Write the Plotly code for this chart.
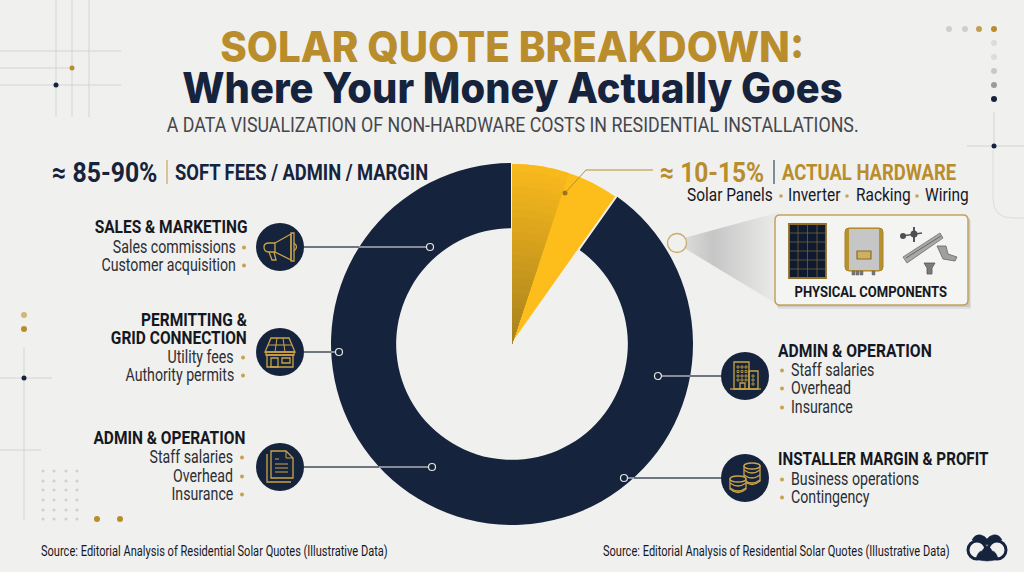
import json
import plotly.graph_objects as go

slice_labels = ["Actual hardware", "Soft fees / admin / margin"]
slice_values = [9.8, 90.2]
shaded_values = [5.1, 94.9]

title_top = "SOLAR QUOTE BREAKDOWN:"
title_bottom = "Where Your Money Actually Goes"
subtitle = "A DATA VISUALIZATION OF NON-HARDWARE COSTS IN RESIDENTIAL INSTALLATIONS."
soft_range = "≈ 85-90%"
soft_label = "SOFT FEES / ADMIN / MARGIN"
hard_range = "≈ 10-15%"
hard_label = "ACTUAL HARDWARE"
hard_parts = ["Solar Panels", "Inverter", "Racking", "Wiring"]
box_label = "PHYSICAL COMPONENTS"
source_text = "Source: Editorial Analysis of Residential Solar Quotes (Illustrative Data)"

BG = "#f0f0ef"
NAVY = "#16233c"
GOLD = "#b98d2c"
ICON = "#c9a445"
YELLOW = "#fdbe1b"
INK = "#15181f"
BODY = "#2b2e33"
NARROW = "Roboto, sans-serif"
WIDE = "Inter, sans-serif"

CX, CY, R = 512, 344, 181
W, H = 1024, 572

fig = go.Figure()
shapes = []
notes = []
squeeze = []  # horizontal glyph scale per annotation, the reference type is condensed


def pie_domain(radius):
    return dict(x=[(CX - radius) / W, (CX + radius) / W],
                y=[(H - CY - radius) / H, (H - CY + radius) / H])


def lerp_color(a, b, t):
    pa = [int(a[i:i + 2], 16) for i in (1, 3, 5)]
    pb = [int(b[i:i + 2], 16) for i in (1, 3, 5)]
    return "rgb(%d,%d,%d)" % tuple(pa[i] + (pb[i] - pa[i]) * t for i in range(3))


def text(x, y, s, size, color=BODY, weight=400, anchor="left", family=NARROW, scale=0.86):
    # annotations keep a small pad round the text, take it back out
    pad = {"left": -2, "right": 2, "center": 0}[anchor]
    notes.append(dict(x=x + pad, y=y, text=s, showarrow=False, xanchor=anchor, yanchor="middle",
                      xref="x", yref="y", align=anchor,
                      font=dict(size=size, color=color, family=family, weight=weight)))
    squeeze.append(scale)


def line(x0, y0, x1, y1, color="#d4d4d3", width=1):
    shapes.append(dict(type="line", x0=x0, y0=y0, x1=x1, y1=y1, line=dict(color=color, width=width)))


def dot(x, y, r, fill, stroke=None, width=1):
    shapes.append(dict(type="circle", x0=x - r, y0=y - r, x1=x + r, y1=y + r, fillcolor=fill,
                       line=dict(color=stroke or fill, width=width if stroke else 0)))


def path(d, color=ICON, width=1.3, fill="rgba(0,0,0,0)"):
    shapes.append(dict(type="path", path=d, fillcolor=fill, line=dict(color=color, width=width)))


def rel(cx, cy, pts, close=True):
    d = "M" + " L".join("%g,%g" % (cx + a, cy + b) for a, b in pts)
    return d + (" Z" if close else "")


def box(cx, cy, x0, y0, x1, y1, color=ICON, width=1.3, fill="rgba(0,0,0,0)"):
    shapes.append(dict(type="rect", x0=cx + x0, y0=cy + y0, x1=cx + x1, y1=cy + y1, fillcolor=fill,
                       line=dict(color=color, width=width)))


# donut
fig.add_trace(go.Pie(labels=slice_labels, values=slice_values, hole=0.64, sort=False,
                     direction="clockwise", rotation=0, textinfo="none", hoverinfo="skip",
                     domain=pie_domain(R),
                     marker=dict(colors=["rgba(0,0,0,0)", NAVY], line=dict(width=0))))
fig.add_trace(go.Pie(labels=slice_labels, values=slice_values, sort=False,
                     direction="clockwise", rotation=0, textinfo="none", hoverinfo="skip",
                     domain=pie_domain(R),
                     marker=dict(colors=[YELLOW, "rgba(0,0,0,0)"],
                                 line=dict(color=BG, width=[2, 0]))))
# darker half of the wedge, stepped towards the centre
for step in range(24):
    t = step / 23
    fig.add_trace(go.Pie(labels=slice_labels, values=shaded_values, sort=False,
                         direction="clockwise", rotation=0, textinfo="none", hoverinfo="skip",
                         domain=pie_domain(R * (1 - t * 0.96) - 1),
                         marker=dict(colors=[lerp_color("#f8b91c", "#a9821f", t), "rgba(0,0,0,0)"],
                                     line=dict(width=0))))

# cone from the ring to the hardware box
fig.add_trace(go.Scatter(x=[684, 780, 780, 684], y=[238, 212, 306, 248], mode="none", fill="toself",
                         hoverinfo="skip",
                         fillgradient=dict(type="horizontal",
                                           colorscale=[[0, "#dcdcdb"], [0.3, "#c6c6c6"], [1, "#ededec"]])))

# background decoration
for x in (56, 72, 89):
    line(x, 0, x, 117)
line(0, 51, 121, 51)
line(0, 68, 72, 68)
line(0, 85, 121, 85)
dot(72, 68, 2.5, GOLD)
dot(56, 85, 2.5, NAVY)
for x, c in zip((949, 965, 979, 994), ("#cfcfce", "#cfcfce", "#c2a053", GOLD)):
    dot(x, 29, 3, c)
for y, c in zip((43, 57, 71, 85, 99), ("#dcdcdb", "#dcdcdb", "#c8c8c8", "#9a9a9a", NAVY)):
    dot(994, y, 3, c)
line(994, 112, 994, 146)
line(967, 146, 1024, 146)
dot(994, 146, 2.5, NAVY)
path("M993,150 L993,198 Q993,218 1012,218 L1024,218", "#dcdcdb", 1)
dot(24, 315, 3, "#d2b67a")
dot(24, 329, 3, GOLD)
line(24, 347, 24, 520)
line(0, 378, 52, 378)
line(0, 450, 41, 450)
dot(24, 378, 2.5, NAVY)
for x in (43, 54, 66, 77):
    for y in (471, 481, 490, 500, 510, 519):
        dot(x, y, 1.5, "#cfcfce")
dot(97, 519, 3, GOLD)
dot(120, 519, 3, GOLD)

# header rows
text(512, 46, title_top, 42, GOLD, 800, "center", WIDE, 0.96)
text(512, 87, title_bottom, 42, NAVY, 800, "center", WIDE, 0.95)
text(512, 125, subtitle, 20, "#45474b", 400, "center", scale=0.89)
text(52, 172, soft_range, 28, NAVY, 700, scale=0.885)
line(167, 160, 167, 184, "#d2b67a", 1.5)
text(175, 172, soft_label, 22.5, NAVY, 700, scale=0.815)
text(660, 172, hard_range, 28, GOLD, 700, scale=0.875)
line(774, 160, 774, 184, NAVY, 1)
text(782, 172, hard_label, 22.5, GOLD, 700, scale=0.82)
for s, x in zip(hard_parts, (687, 788, 856, 925)):
    text(x, 195, s, 18.5, INK, 400, scale=0.835)
for x in (781, 847, 917):
    dot(x, 196, 1.8, "#c9a24e")

# yellow slice pointer
path("M565,193 L586,170 L653,170", GOLD, 1)
dot(565, 193, 2.5, "#9a7420")


def callout(name_lines, items, side, icon_y, ring_x, edge_x, name_y, item_ys, text_x, dot_x, name_x, name_scale=0.815):
    icon_x = 280 if side == "left" else 745
    near = icon_x + (24 if side == "left" else -24)
    line(near, icon_y, edge_x, icon_y, "#444c5c", 1.5)
    line(edge_x, icon_y, ring_x, icon_y, "#aab0ba", 1.5)
    dot(ring_x, icon_y, 3.5, NAVY, "#e6e6e6", 1.2)
    dot(icon_x, icon_y, 24, NAVY)
    anchor = "right" if side == "left" else "left"
    for y, s in zip(name_y, name_lines):
        text(name_x, y, s, 19, INK, 700, anchor, scale=name_scale)
    for y, s in zip(item_ys, items):
        text(text_x, y, s, 17.5, BODY, 400, anchor, scale=0.81)
        dot(dot_x, y + 0.5, 2, "#c9a24e")


callout(["SALES & MARKETING"], ["Sales commissions", "Customer acquisition"], "left", 247, 430, 359, [226], [247, 265], 236, 244, 247)
callout(["PERMITTING &", "GRID CONNECTION"], ["Utility fees", "Authority permits"], "left", 352, 339, 331, [319, 337], [357, 375], 234, 243, 247)
callout(["ADMIN & OPERATION"], ["Staff salaries", "Overhead", "Insurance"], "left", 467, 432, 379, [437], [457, 476, 494], 233, 242, 245)
callout(["ADMIN & OPERATION"], ["Staff salaries", "Overhead", "Insurance"], "right", 376, 658, 690, [350], [370, 388, 407], 791, 782, 778, 0.825)
callout(["INSTALLER MARGIN & PROFIT"], ["Business operations", "Contingency"], "right", 478, 624, 634, [458], [479, 497], 791, 782, 778, 0.80)

# megaphone
cx, cy = 280, 247
path(rel(cx, cy, [(-5, -4), (11, -13), (11, 13), (-5, 5)]))
path("M%g,%g L%g,%g Q%g,%g %g,%g Q%g,%g %g,%g L%g,%g" % (cx - 5, cy - 4, cx - 11, cy - 4, cx - 16, cy - 4, cx - 16, cy,
                                                        cx - 16, cy + 5, cx - 11, cy + 5, cx - 5, cy + 5))
path(rel(cx, cy, [(-11, 5), (-8, 13), (-4, 13), (-6, 5)], False))
path(rel(cx, cy, [(11, -14), (14, -14), (14, 14), (11, 14)]))
path("M%g,%g Q%g,%g %g,%g" % (cx + 14, cy - 4, cx + 19, cy, cx + 14, cy + 4))

# shop with solar roof
cx, cy = 280, 352
path(rel(cx, cy, [(-9, -14), (9, -14), (15, 0), (-15, 0)]))
path(rel(cx, cy, [(-12, -7), (12, -7)], False), width=1)
for a, b in ((-3, -5), (3, 5)):
    path(rel(cx, cy, [(a, -14), (b, 0)], False), width=1)
box(cx, cy, -14, 0, 14, 3)
box(cx, cy, -13, 3, 13, 15)
box(cx, cy, -9, 6, -2, 15)
box(cx, cy, 2, 6, 10, 11)

# documents
cx, cy = 280, 467
path(rel(cx, cy, [(-13, -13), (-13, 15), (11, 15)], False))
path(rel(cx, cy, [(-9, -16), (6, -16), (13, -9), (13, 11), (-9, 11)]))
path(rel(cx, cy, [(6, -16), (6, -9), (13, -9)], False), width=1)
for y, x1 in ((-8, -1), (-3, 8), (1, 8), (5, 8)):
    path(rel(cx, cy, [(-5, y), (x1, y)], False), width=1)

# office block
cx, cy = 745, 376
box(cx, cy, -11, -14, 4, 13)
box(cx, cy, 4, -5, 13, 13)
line(cx - 15, cy + 13, cx + 16, cy + 13, ICON, 1.3)
box(cx, cy, -5, 7, 0, 13)
for dx in (-8, -4, 0):
    for dy in (-10, -5.5, -1, 3):
        box(cx, cy, dx, dy, dx + 2, dy + 2, width=0.8)
for dy in (-1, 3, 7):
    box(cx, cy, 7, dy, 9, dy + 2, width=0.8)

# coins, back stack first
for cx, base, n in ((752, 481, 4), (738, 489, 3)):
    top = base - (n - 1) * 5
    path("M%g,%g L%g,%g Q%g,%g %g,%g L%g,%g Z" % (cx - 8, top, cx - 8, base, cx, base + 7, cx + 8, base, cx + 8, top),
         fill=NAVY)
    for i in range(n - 1):
        y = base - i * 5
        path("M%g,%g Q%g,%g %g,%g" % (cx - 8, y - 1, cx, y + 5, cx + 8, y - 1))
    shapes.append(dict(type="circle", x0=cx - 8, x1=cx + 8, y0=top - 3, y1=top + 3, fillcolor=NAVY,
                       line=dict(color=ICON, width=1.3)))

# hardware box
shapes.append(dict(type="rect", x0=778, y0=220, x1=971, y1=309, fillcolor="rgba(110,110,110,0.12)", line=dict(width=0)))
shapes.append(dict(type="rect", x0=777, y0=218, x1=970, y1=307, fillcolor="rgba(110,110,110,0.18)", line=dict(width=0)))
path("M780,215 L963,215 Q968,215 968,220 L968,300 Q968,305 963,305 L780,305 Q775,305 775,300 L775,220 Q775,215 780,215 Z",
     "#c2a25b", 1.5, "#f4f4f2")
dot(677, 243, 9.5, BG, "#c9ac66", 1.3)
text(871, 292, box_label, 15.5, INK, 700, "center", scale=0.84)

# panel
box(0, 0, 789, 224, 826, 278, "#8f7026", 1.8, "#101a2e")
for x in (798, 807.5, 817):
    line(x, 224, x, 278, "#7d6a3a", 0.7)
for y in (233, 242, 251, 260, 269):
    line(789, y, 826, y, "#7d6a3a", 0.7)

# inverter
path("M849,228 L879,228 Q883,228 883,232 L883,267 Q883,271 879,271 L849,271 Q845,271 845,267 L845,232 Q845,228 849,228 Z",
     "#a8842c", 1, "#b8912f")
box(0, 0, 849, 229, 879, 270, "#c9c9c9", 0, "#c6c6c6")
box(0, 0, 857, 251, 871, 259, "#8a6d23", 1.2, "#d0b060")
for x in (852, 856, 860, 872):
    box(0, 0, x, 271, x + 3, 275, "#666", 0.5, "#777")

# racking
path("M903,257 L940,233 L943,238 L907,263 Z", "#6f6f6f", 0.8, "#a9a9a9")
line(906, 258, 941, 236, "#666", 1)
path("M937,246 L946,246 L948,254 L957,257 L955,261 L943,259 Z", "#666", 0.8, "#a0a0a0")
path("M924,263 L935,263 L932,268 L932,274 L927,274 L927,268 Z", "#555", 0.8, "#7c7c7c")
line(902, 236, 922, 233, "#555", 1.5)
line(914, 227, 914, 242, "#555", 2)
dot(914, 234, 3.5, "#4d4f54")
dot(903, 236, 3, "#4d4f54")

# footer
text(41, 551, source_text, 14, INK, scale=0.79)
text(603, 551, source_text, 14, INK, scale=0.79)
dot(977, 550, 9, BG, NAVY, 3)
dot(997, 550, 9, BG, NAVY, 3)
path("M972,540 Q975,534 981,535 Q985,536 987,539 Q989,536 993,535 Q999,534 1002,540 Q994,541 987,545 Q980,541 972,540 Z", NAVY, 0.5, NAVY)
path("M976,559 Q978,551 982,551 Q984,547 987,547 Q991,547 992,551 Q996,551 998,559 Q987,563 976,559 Z", NAVY, 0.5, NAVY)

fig.update_layout(width=W, height=H, margin=dict(l=0, r=0, t=0, b=0), showlegend=False,
                  paper_bgcolor=BG, plot_bgcolor=BG, shapes=shapes, annotations=notes,
                  xaxis=dict(range=[0, W], visible=False, fixedrange=True),
                  yaxis=dict(range=[H, 0], visible=False, fixedrange=True))

# Roboto has no condensed face here, so narrow the glyphs with textLength
post = """
document.body.style.margin='0';
var squeeze = %s;
document.querySelectorAll('.annotation-text').forEach(function (el, i) {
  var full = el.getComputedTextLength();
  el.setAttribute('lengthAdjust', 'spacingAndGlyphs');
  el.setAttribute('textLength', full * squeeze[i]);
  var bg = el.closest('.annotation').querySelector('rect.bg');
  if (bg && el.getAttribute('text-anchor') === 'start') {
    bg.setAttribute('width', bg.getBBox().width - full * (1 - squeeze[i]));
  }
});
""" % json.dumps(squeeze)
fig.write_html("out.html", config=dict(displayModeBar=False), post_script=post)
